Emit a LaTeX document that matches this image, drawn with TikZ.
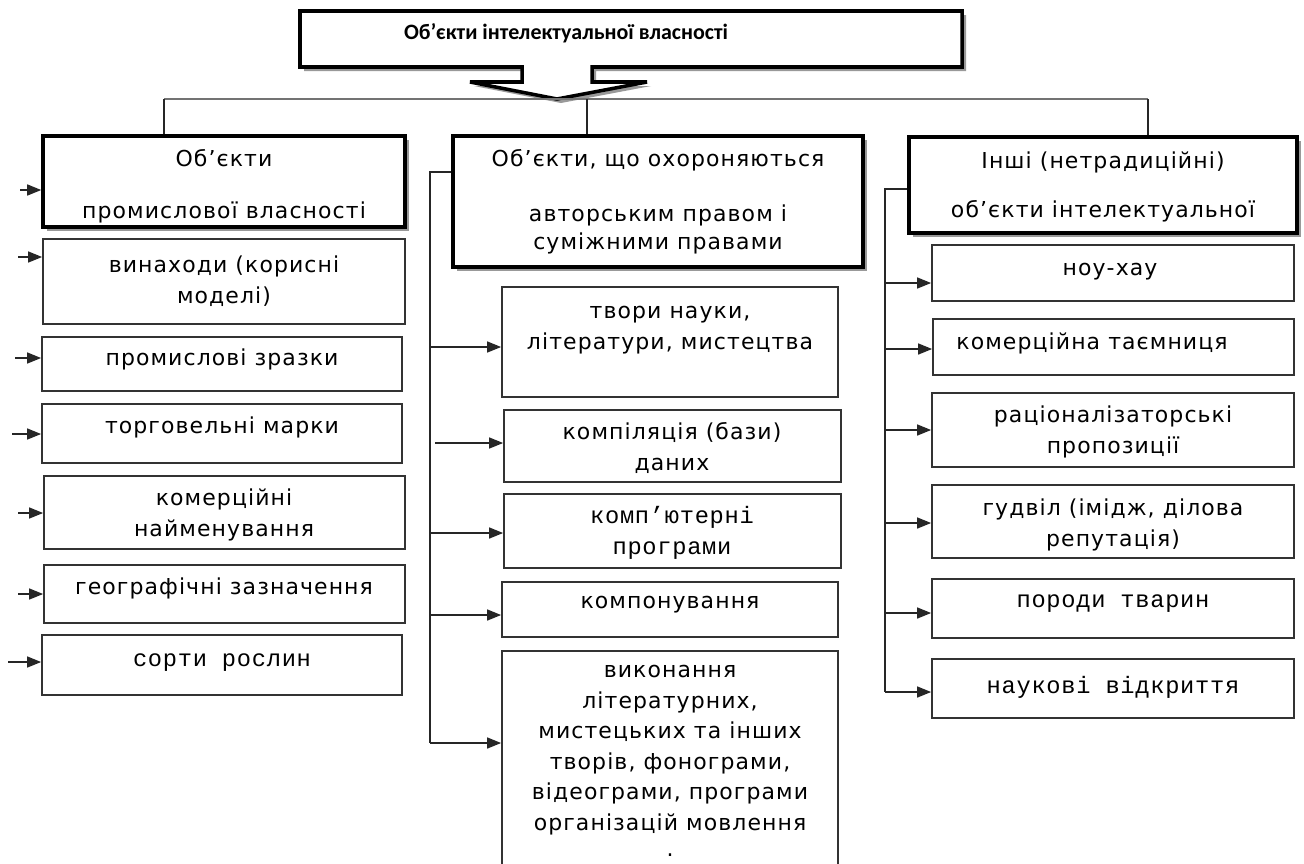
\documentclass[tikz,border=0pt]{standalone}
\usepackage{fontspec}
\setmainfont{DejaVu Sans}[LetterSpace=5]
\newfontfamily\monof{Liberation Mono}[LetterSpace=3]
\newfontfamily\titlef{Carlito}
\usetikzlibrary{arrows.meta,shadows}
\newcommand\mybox[6][box]{\node[#1,minimum width={(#5-#3)*0.02cm},minimum height={(#6-#4)*0.02cm}] (#2) at ({(#3+#5)/2},{(#4+#6)/2}) {};}
\tikzset{
  box/.style={draw=black!80,line width=1pt,fill=white,inner sep=0pt},
  mainbox/.style={draw=black,line width=2pt,fill=white,inner sep=0pt,
    drop shadow={shadow xshift=0.08cm,shadow yshift=-0.08cm,fill=black!40,opacity=1}},
  txt/.style={align=center,inner sep=0pt,font=\fontsize{12.5}{18}\selectfont},
  mtxt/.style={align=center,inner sep=0pt,font=\monof\fontsize{13.5}{18}\selectfont},
  conn/.style={draw=black!85,line width=0.8pt},
  hline/.style={draw=black!55,line width=1pt},
  arr/.style={conn,-{Triangle[length=0.28cm,width=0.22cm]}}
}
\begin{document}
\begin{tikzpicture}[x=0.02cm,y=-0.02cm]
\useasboundingbox[fill=white] (0,0) rectangle (1304,863);
\clip (0,0) rectangle (1304,863);
% top callout
\coordinate (tip) at (557,99);
\draw[draw=black,line width=2pt,fill=white,line join=miter,
  drop shadow={shadow xshift=0.08cm,shadow yshift=-0.08cm,fill=black!40,opacity=1}]
  (300,11) -- (962,11) -- (962,67) -- (592,67) -- (592,82) -- (647,82) -- (tip)
  -- (470,82) -- (522,82) -- (522,67) -- (300,67) -- cycle;
\node[inner sep=0pt,font=\titlef\bfseries\fontsize{12.5}{14}\selectfont] (ttl) at (566,33) {Об’єкти інтелектуальної власності};
% trunk
\coordinate (hl) at (164,99);
\coordinate (hr) at (1148,99);
\coordinate (hm) at (587,99);
% main boxes
\mybox[mainbox]{lm}{43}{136}{405}{227}
\mybox[mainbox]{mm}{453}{136}{863}{267}
\mybox[mainbox]{rm}{909}{137}{1297}{233}
\draw[hline] (hl) -- (hr);
\draw[conn] (hl) -- (hl |- lm.north);
\draw[conn] (hm) -- (hm |- mm.north);
\draw[conn] (hr) -- (hr |- rm.north);
\node[txt] (lmt) at (224,186) {Об’єкти\\[11.4pt]промислової власності};
\node[txt] (mmt) at (658,202) {Об’єкти, що охороняються\\[13pt]авторським правом і\\[-1.6pt]суміжними правами};
\node[txt] (rmt) at (1103,187) {Інші (нетрадиційні)\\[10.3pt]об’єкти інтелектуальної};
% left column
\mybox{l1}{43}{239}{405}{324}
\mybox{l2}{42}{337}{402}{391}
\mybox{l3}{42}{404}{402}{463}
\mybox{l4}{44}{476}{405}{549}
\mybox{l5}{44}{565}{405}{623}
\mybox{l6}{42}{635}{402}{695}
\node[txt] (l1t) at (224,281) {винаходи (корисні\\моделі)};
\node[txt] (l2t) at (222,359) {промислові зразки};
\node[txt] (l3t) at (222,427) {торговельні марки};
\node[txt] (l4t) at (224,515) {комерційні\\найменування};
\node[txt] (l5t) at (224,588) {географічні зазначення};
\node[mtxt] (l6t) at (222,663) {сорти рослин};
\coordinate (a0) at (20,190);
\coordinate (a1) at (18,257);
\coordinate (a2) at (15,358);
\coordinate (a3) at (12,434);
\coordinate (a4) at (18,513);
\coordinate (a5) at (18,594);
\coordinate (a6) at (8,662);
\draw[arr] (a0) -- (a0 -| lm.west);
\draw[arr] (a1) -- (a1 -| l1.west);
\draw[arr] (a2) -- (a2 -| l2.west);
\draw[arr] (a3) -- (a3 -| l3.west);
\draw[arr] (a4) -- (a4 -| l4.west);
\draw[arr] (a5) -- (a5 -| l5.west);
\draw[arr] (a6) -- (a6 -| l6.west);
% middle column
\mybox{m1}{502}{287}{838}{397}
\mybox{m2}{504}{410}{841}{482}
\mybox{m3}{504}{494}{841}{568}
\mybox{m4}{502}{582}{838}{637}
\mybox{m5}{502}{651}{838}{900}
\node[txt] (m1t) at (670,330) {твори науки,\\літератури, мистецтва};
\node[txt] (m2t) at (672,448) {компіляція (бази)\\даних};
\node[mtxt] (m3t) at (672,533) {комп’ютерні\\програми};
\node[txt] (m4t) at (670,605) {компонування};
\node[txt,font=\fontsize{12.5}{17.4}\selectfont] (m5t) at (670,750) {виконання\\літературних,\\мистецьких та інших\\творів, фонограми,\\відеограми, програми\\організацій мовлення};
\node[inner sep=0pt,font=\fontsize{12.5}{14}\selectfont] (m5d) at (670,855) {.};
\coordinate (mv) at (430,172);
\coordinate (mvb) at (430,743);
\draw[conn] (mm.west |- mv) -- (mv) -- (mvb);
\draw[arr] (mv |- 0,347) -- (m1.west |- 0,347);
\draw[arr] (435,443) -- (m2.west |- 0,443);
\draw[arr] (mv |- 0,533) -- (m3.west |- 0,533);
\draw[arr] (mv |- 0,615) -- (m4.west |- 0,615);
\draw[arr] (mvb) -- (mvb -| m5.west);
% right column
\mybox{r1}{932}{245}{1294}{301}
\mybox{r2}{933}{319}{1294}{375}
\mybox{r3}{932}{393}{1294}{467}
\mybox{r4}{932}{485}{1294}{558}
\mybox{r5}{932}{579}{1294}{638}
\mybox{r6}{932}{659}{1294}{718}
\node[txt] (r1t) at (1110,272) {ноу-хау};
\node[txt] (r2t) at (1092,343) {комерційна таємниця};
\node[txt] (r3t) at (1113,432) {раціоналізаторські\\пропозиції};
\node[txt] (r4t) at (1113,525) {гудвіл (імідж, ділова\\репутація)};
\node[mtxt] (r5t) at (1113,604) {породи тварин};
\node[mtxt] (r6t) at (1113,687) {наукові відкриття};
\coordinate (rv) at (885,189);
\coordinate (rvb) at (885,692);
\draw[conn] (rm.west |- rv) -- (rv) -- (rvb);
\draw[arr] (rv |- 0,283) -- (r1.west |- 0,283);
\draw[arr] (rv |- 0,349) -- (r2.west |- 0,349);
\draw[arr] (rv |- 0,430) -- (r3.west |- 0,430);
\draw[arr] (rv |- 0,523) -- (r4.west |- 0,523);
\draw[arr] (rv |- 0,613) -- (r5.west |- 0,613);
\draw[arr] (rvb) -- (rvb -| r6.west);
\end{tikzpicture}
\end{document}
